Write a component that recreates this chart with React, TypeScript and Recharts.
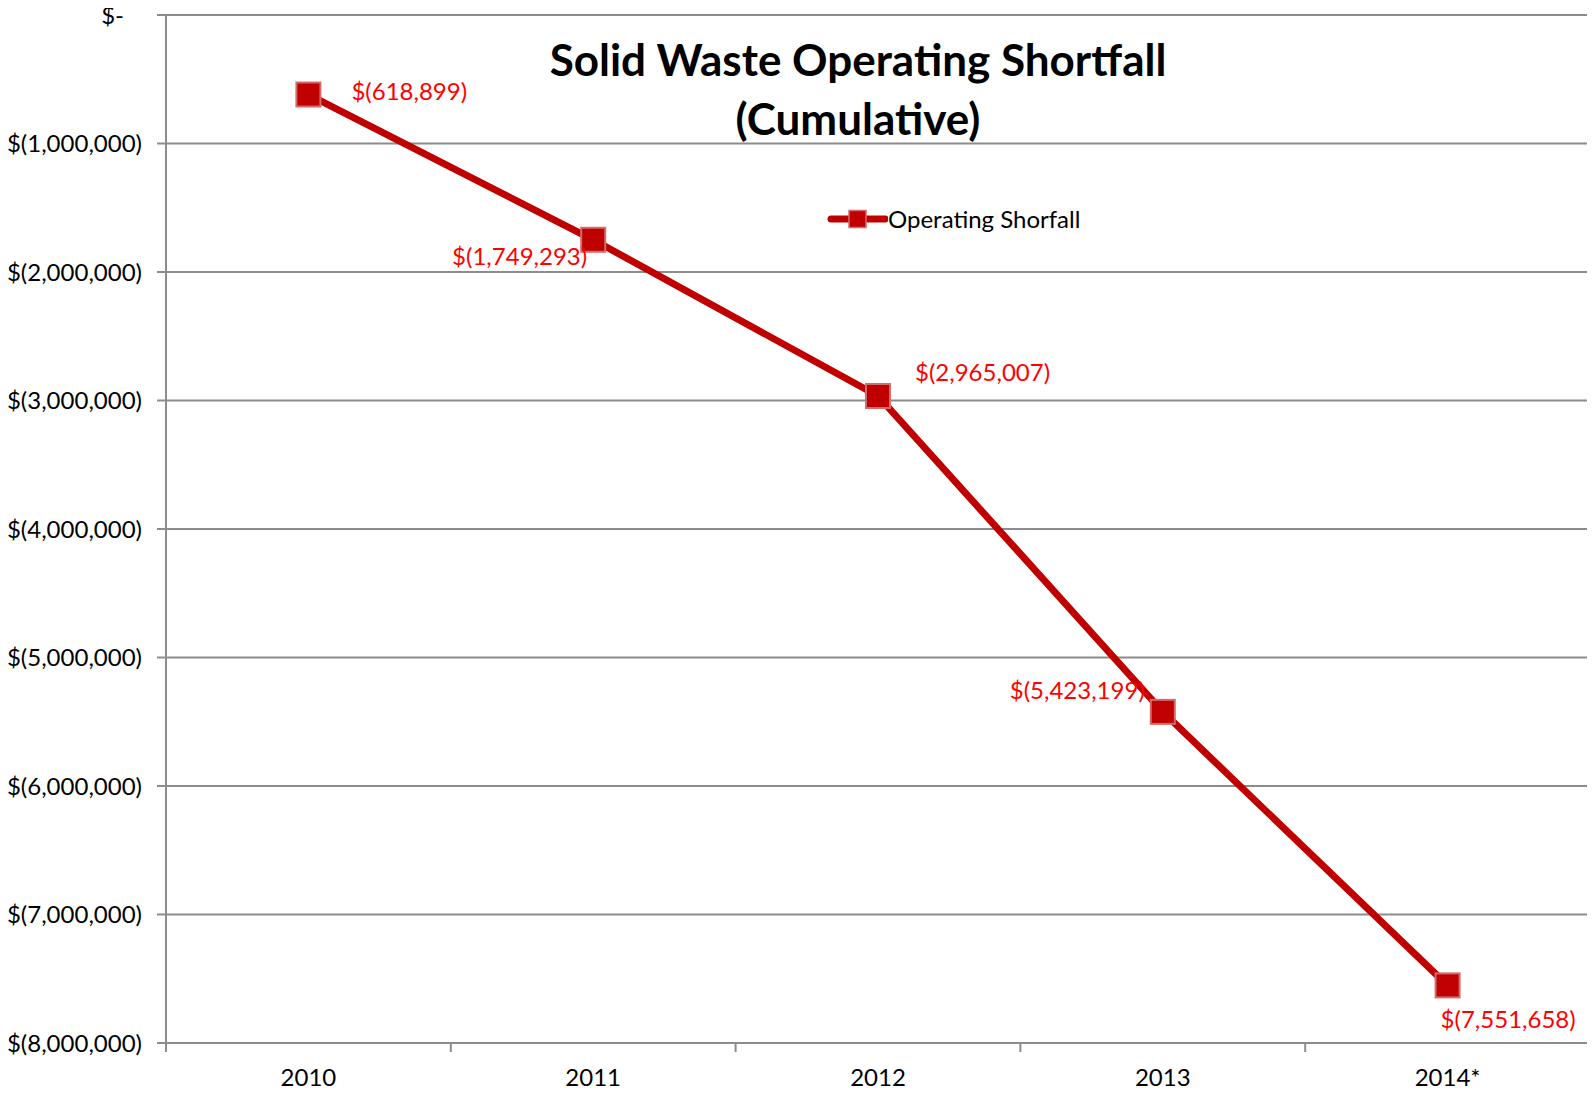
import React from 'react';
import { LineChart, Line, XAxis, YAxis, CartesianGrid, LabelList } from 'recharts';

const categories = ['2010', '2011', '2012', '2013', '2014*'];
const shortfall = [-618899, -1749293, -2965007, -5423199, -7551658];
const yTicks = [0, -1000000, -2000000, -3000000, -4000000, -5000000, -6000000, -7000000, -8000000];
const xTicks = [-0.5, 0, 0.5, 1, 1.5, 2, 2.5, 3, 3.5, 4, 4.5];
const seriesName = 'Operating Shorfall';
const titleLines = ['Solid Waste Operating Shortfall', '(Cumulative)'];

const data = categories.map((c, i) => ({ idx: i, year: c, value: shortfall[i] }));

const labelPlacement = [
  { dx: 43, dy: -4, anchor: 'start' },
  { dx: -6, dy: 16, anchor: 'end' },
  { dx: 37, dy: -25, anchor: 'start' },
  { dx: -18, dy: -22, anchor: 'end' },
  { dx: -7, dy: 33, anchor: 'start' },
];

const LINE = '#c00000';
const GRID = '#8c8c8c';
const FONT = 'Lato, "Open Sans", sans-serif';
const FS = 24;

const fmt = (v: number) =>
  v === 0 ? '$-' : `$(${Math.abs(v).toLocaleString('en-US')})`;

const YTick = (props: any) => {
  const { x, y, payload } = props;
  const v = payload.value as number;
  return (
    <text x={v === 0 ? x - 18 : x} y={y} dy="0.36em" textAnchor="end" fontSize={FS} fill="#000" fontFamily={FONT}>
      {fmt(v)}
    </text>
  );
};

const XTick = (props: any) => {
  const { x, y, payload } = props;
  const v = payload.value as number;
  if (!Number.isInteger(v)) {
    return <line x1={x} x2={x} y1={y - 9} y2={y} stroke={GRID} strokeWidth={2} />;
  }
  return (
    <text x={x} y={y + 24} dominantBaseline="central" textAnchor="middle" fontSize={FS} fill="#000" fontFamily={FONT}>
      {categories[v]}
    </text>
  );
};

const SquareDot = (props: any) => {
  const { cx, cy, index } = props;
  if (cx == null || cy == null) return null;
  return (
    <rect key={`d${index}`} x={cx - 12} y={cy - 12} width={24} height={24} fill={LINE} stroke="#d46a6a" strokeWidth={2} />
  );
};

const DataLabel = (props: any) => {
  const { x, y, value, index } = props;
  const p = labelPlacement[index];
  return (
    <text x={x + p.dx} y={y + p.dy} dominantBaseline="central" textAnchor={p.anchor} fontSize={FS} fill="#ff0000" fontFamily={FONT}>
      {fmt(value)}
    </text>
  );
};

export default function App() {
  return (
    <div style={{ position: 'relative', margin: -8, width: 1595, height: 1096, fontFamily: FONT, background: '#fff', overflow: 'hidden' }}>
      <LineChart width={1595} height={1096} data={data} margin={{ top: 15, right: 5, left: 0, bottom: 0 }}>
        <CartesianGrid vertical={false} stroke={GRID} strokeWidth={2} />
        <XAxis
          dataKey="idx"
          type="number"
          domain={[-0.5, 4.5]}
          ticks={xTicks}
          interval={0}
          tickLine={false}
          tickSize={9}
          tickMargin={0}
          height={53}
          axisLine={{ stroke: GRID, strokeWidth: 2 }}
          tick={<XTick />}
        />
        <YAxis
          domain={[-8000000, 0]}
          ticks={yTicks}
          interval={0}
          width={166}
          tickSize={9}
          tickMargin={15}
          tickLine={{ stroke: GRID, strokeWidth: 2 }}
          axisLine={{ stroke: GRID, strokeWidth: 2 }}
          tick={<YTick />}
        />
        <Line
          type="linear"
          dataKey="value"
          name={seriesName}
          stroke={LINE}
          strokeWidth={7}
          dot={<SquareDot />}
          activeDot={false}
          isAnimationActive={false}
        >
          <LabelList dataKey="value" content={<DataLabel />} />
        </Line>
      </LineChart>
      <div style={{ position: 'absolute', left: 458, width: 800, top: 30, textAlign: 'center', fontWeight: 700, fontSize: 44, lineHeight: '59px', color: '#000', pointerEvents: 'none' }}>
        {titleLines.map((t) => (
          <div key={t}>{t}</div>
        ))}
      </div>
      <div style={{ position: 'absolute', left: 826, top: 204, height: 30, display: 'flex', alignItems: 'center' }}>
        <svg width={62} height={30} style={{ display: 'block' }}>
          <line x1={5} x2={59} y1={15} y2={15} stroke={LINE} strokeWidth={7} strokeLinecap="round" />
          <rect x={23} y={6.5} width={17} height={17} fill={LINE} stroke="#d46a6a" strokeWidth={1.5} />
        </svg>
        <span style={{ fontSize: FS, marginLeft: 0, color: '#000', whiteSpace: 'nowrap', lineHeight: '30px' }}>{seriesName}</span>
      </div>
    </div>
  );
}
